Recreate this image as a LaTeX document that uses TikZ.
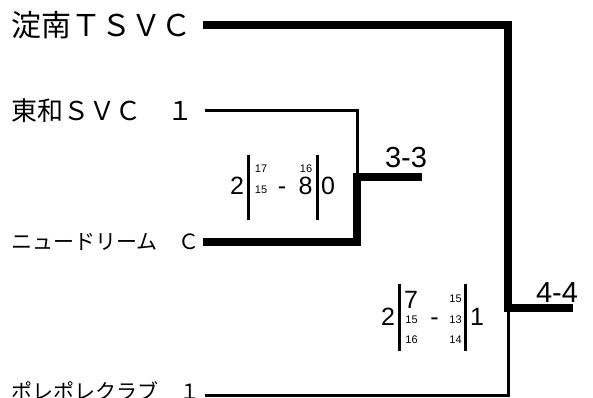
\documentclass[tikz,border=0pt]{standalone}
\usepackage{fontspec}
\setmainfont{Liberation Sans}
\newfontfamily\jp{Noto Sans CJK JP}
\begin{document}
\begin{tikzpicture}[x=1pt,y=-1pt,
 team/.style={anchor=west, inner sep=0pt},
 thickline/.style={line width=8pt, line join=miter},
 thinline/.style={line width=3pt, line join=miter},
 scorebar/.style={line width=3pt},
 big/.style={inner sep=0pt, anchor=base, font=\fontsize{25}{25}\selectfont},
 small/.style={inner sep=0pt, anchor=base, font=\fontsize{11}{11}\selectfont},
 result/.style={inner sep=0pt, anchor=base, font=\fontsize{29}{29}\selectfont}]
\useasboundingbox (0,0) rectangle (593,398);
% teams
\node[team, font=\jp\fontsize{30}{30}\selectfont] (t1) at (11,25) {淀南ＴＳＶＣ};
\node[team, font=\jp\fontsize{26}{26}\selectfont] (t2) at (11,111) {東和ＳＶＣ　１};
\node[team, font=\jp\fontsize{21}{21}\selectfont] (t3) at (11,241.5) {ニュードリーム　Ｃ};
\node[team, font=\jp\fontsize{21}{21}\selectfont] (t4) at (11,391) {ポレポレクラブ　１};
% bracket points
\coordinate (a0) at (203,25);
\coordinate (a1) at (508,25);
\coordinate (a2) at (508,307.5);
\coordinate (a3) at (573,307.5);
\coordinate (b0) at (205,111);
\coordinate (b1) at (357,111);
\coordinate (m1) at (357,176.5);
\coordinate (w1) at (422,176.5);
\coordinate (c0) at (203,241.5);
\coordinate (c1) at (357,241.5);
\coordinate (d0) at (205,395);
\coordinate (d1) at (508,395);
\draw[thinline] (b0) -- (b1) -- (m1);
\draw[thinline] (d0) -- (d1) -- (a2);
\draw[thickline] (c0) -- (c1) -- (m1) -- (w1);
\draw[thickline] (a0) -- (a1) -- (a2) -- (a3);
% results
\node[result] (r1) at (406,167) {3-3};
\node[result] (r2) at (557,302) {4-4};
% score box 1
\coordinate (p1t) at (248,155); \coordinate (p1b) at (248,220);
\coordinate (q1t) at (317,155); \coordinate (q1b) at (317,220);
\draw[scorebar] (p1t) -- (p1b);
\draw[scorebar] (q1t) -- (q1b);
\node[big] (s1a) at (237,194) {2};
\node[small] (s1b) at (261,172) {17};
\node[small] (s1c) at (261,193) {15};
\node[big] (s1d) at (282,194) {-};
\node[small] (s1e) at (306,172) {16};
\node[big] (s1f) at (305.5,194) {8};
\node[big] (s1g) at (328,194) {0};
% score box 2
\coordinate (p2t) at (399.5,284); \coordinate (p2b) at (399.5,351);
\coordinate (q2t) at (465.5,284); \coordinate (q2b) at (465.5,351);
\draw[scorebar] (p2t) -- (p2b);
\draw[scorebar] (q2t) -- (q2b);
\node[big] (s2a) at (388,325) {2};
\node[big] (s2b) at (411,308) {7};
\node[small] (s2c) at (411.5,323) {15};
\node[small] (s2d) at (411.5,343) {16};
\node[big] (s2e) at (434.5,325) {-};
\node[small] (s2f) at (455.5,302) {15};
\node[small] (s2g) at (455.5,323) {13};
\node[small] (s2h) at (455.5,343) {14};
\node[big] (s2i) at (477,325) {1};
\end{tikzpicture}
\end{document}
